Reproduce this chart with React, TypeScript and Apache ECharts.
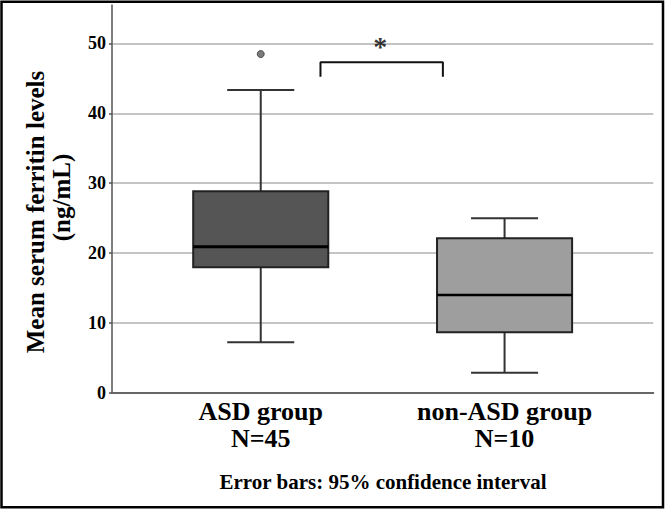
import React, { useEffect, useRef } from "react";
import * as echarts from "echarts";

const categories = ["ASD group\nN=45", "non-ASD group\nN=10"];
const lowerWhisker = [7.25, 2.9];
const q1 = [17.98, 8.68];
const median = [20.92, 14.02];
const q3 = [28.85, 22.13];
const upperWhisker = [43.33, 24.99];
const outliers = [[0, 48.48]];
const boxFills = ["#555555", "#9e9e9e"];
const medianWidths = [3, 2.5];
const yTicks = [0, 10, 20, 30, 40, 50];
const sigFrom = 0.245;
const sigTo = 0.747;
const sigTop = 47.3;
const sigLegBottom = 45.24;
const sigMark = { x: 0.49, y: 49.6, text: "*" };

const FONT = "'Liberation Serif', 'Times New Roman', serif";

export default function App() {
  const ref = useRef<HTMLDivElement>(null);
  useEffect(() => {
    if (!ref.current) return;
    const chart = echarts.init(ref.current, null, { renderer: "svg" });
    const boxData = categories.map((_, i) => [i, lowerWhisker[i], q1[i], median[i], q3[i], upperWhisker[i]]);
    const option: any = {
      animation: false,
      backgroundColor: "#ffffff",
      grid: { left: 112, right: 12.7, top: 4.96, bottom: 117, containLabel: false },
      xAxis: {
        type: "value",
        min: -0.61,
        max: 1.61,
        splitLine: { show: false },
        axisTick: { show: false },
        axisLine: { show: true, onZero: false, lineStyle: { color: "#666666", width: 2 } },
        axisLabel: {
          customValues: [0, 1],
          formatter: (v: number) => categories[Math.round(v)] ?? "",
          fontFamily: FONT,
          fontWeight: "bold",
          fontSize: 26,
          lineHeight: 27,
          color: "#000000",
          margin: 5,
        },
      },
      yAxis: {
        type: "value",
        min: 0,
        max: 55.5,
        interval: 10,
        axisLine: { show: true, onZero: false, lineStyle: { color: "#555555", width: 1.5 } },
        axisTick: { show: true, length: 3, lineStyle: { color: "#555555", width: 1.5 } },
        splitLine: { show: true, showMinLine: false, showMaxLine: false, lineStyle: { color: "#b0b0b0", width: 1.5 } },
        axisLabel: {
          formatter: (v: number) => (yTicks.includes(v) ? String(v) : ""),
          showMaxLabel: false,
          fontFamily: FONT,
          fontWeight: "bold",
          fontSize: 18,
          color: "#000000",
          margin: 6,
        },
      },
      series: [
        {
          type: "custom",
          data: boxData,
          z: 5,
          renderItem: (params: any, api: any) => {
            const i = params.dataIndex;
            const x = api.value(0);
            const pLow = api.coord([x, api.value(1)]);
            const pQ1 = api.coord([x, api.value(2)]);
            const pMed = api.coord([x, api.value(3)]);
            const pQ3 = api.coord([x, api.value(4)]);
            const pHigh = api.coord([x, api.value(5)]);
            const halfW = api.size([0.554, 0])[0] / 2;
            const capHalf = api.size([0.275, 0])[0] / 2;
            const cx = pMed[0];
            const wStyle = { stroke: "#333333", lineWidth: 2 };
            return {
              type: "group",
              children: [
                { type: "line", shape: { x1: cx, y1: pQ1[1], x2: cx, y2: pLow[1] }, style: wStyle },
                { type: "line", shape: { x1: cx, y1: pQ3[1], x2: cx, y2: pHigh[1] }, style: wStyle },
                { type: "line", shape: { x1: cx - capHalf, y1: pLow[1], x2: cx + capHalf, y2: pLow[1] }, style: wStyle },
                { type: "line", shape: { x1: cx - capHalf, y1: pHigh[1], x2: cx + capHalf, y2: pHigh[1] }, style: wStyle },
                {
                  type: "rect",
                  shape: { x: cx - halfW, y: pQ3[1], width: halfW * 2, height: pQ1[1] - pQ3[1] },
                  style: { fill: boxFills[i], stroke: "#222222", lineWidth: 2 },
                },
                {
                  type: "line",
                  shape: { x1: cx - halfW, y1: pMed[1], x2: cx + halfW, y2: pMed[1] },
                  style: { stroke: "#000000", lineWidth: medianWidths[i] },
                },
              ],
            };
          },
        },
        {
          type: "scatter",
          data: outliers,
          symbol: "circle",
          symbolSize: 7,
          z: 6,
          itemStyle: { color: "#5a5a5a", borderColor: "#333333", borderWidth: 1 },
        },
        {
          type: "line",
          data: [
            [sigFrom, sigLegBottom],
            [sigFrom, sigTop],
            [sigTo, sigTop],
            [sigTo, sigLegBottom],
          ],
          symbol: "none",
          z: 6,
          lineStyle: { color: "#111111", width: 2 },
        },
        {
          type: "scatter",
          data: [[sigMark.x, sigMark.y]],
          symbolSize: 0,
          z: 7,
          label: {
            show: true,
            position: "inside",
            formatter: sigMark.text,
            fontFamily: FONT,
            fontWeight: "bold",
            fontSize: 28,
            color: "#000000",
          },
        },
      ],
      graphic: [
        {
          type: "rect",
          shape: { x: 1.5, y: 1.8, width: 661.5, height: 505.5 },
          style: { fill: "none", stroke: "#000000", lineWidth: 2.5 },
          z: 100,
        },
        {
          type: "text",
          x: 35.5,
          y: 212,
          rotation: Math.PI / 2,
          style: {
            text: "Mean serum ferritin levels",
            font: `bold 25px ${FONT}`,
            fill: "#000000",
            align: "center",
            verticalAlign: "middle",
          },
        },
        {
          type: "text",
          x: 61,
          y: 197.5,
          rotation: Math.PI / 2,
          style: {
            text: "(ng/mL)",
            font: `bold 25px ${FONT}`,
            fill: "#000000",
            align: "center",
            verticalAlign: "middle",
          },
        },
        {
          type: "text",
          x: 383,
          y: 482,
          style: {
            text: "Error bars: 95% confidence interval",
            font: `bold 21px ${FONT}`,
            fill: "#000000",
            align: "center",
            verticalAlign: "middle",
          },
        },
      ],
    };
    chart.setOption(option);
    return () => chart.dispose();
  }, []);
  return (
    <div
      ref={ref}
      style={{ position: "absolute", left: 0, top: 0, width: 666, height: 510 }}
    />
  );
}
